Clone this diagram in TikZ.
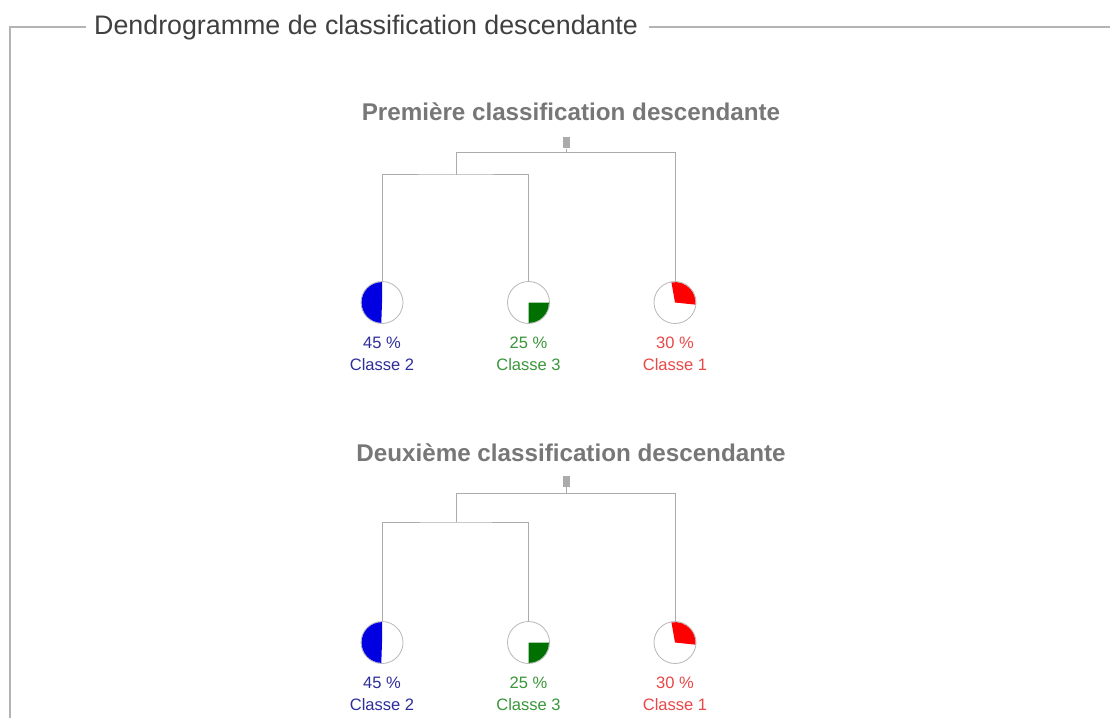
\documentclass[tikz,border=0pt]{standalone}
\usepackage{fontspec}
\setmainfont{Liberation Sans}
\definecolor{titlegray}{HTML}{404040}
\definecolor{subgray}{HTML}{777777}
\definecolor{framegray}{HTML}{B4B4B4}
\definecolor{linegray}{HTML}{ABABAB}
\definecolor{piegray}{HTML}{B8B8B8}
\definecolor{bluefill}{HTML}{0000E0}
\definecolor{bluetext}{HTML}{2E2E9C}
\definecolor{greenfill}{HTML}{007000}
\definecolor{greentext}{HTML}{3A963A}
\definecolor{redfill}{HTML}{FF0000}
\definecolor{redtext}{HTML}{E84848}
\begin{document}
\begin{tikzpicture}[x=1bp,y=-1bp,
  frameline/.style={draw=framegray,line width=1.3bp},
  branch/.style={draw=linegray,line width=1bp},
  pie/.style={circle,draw=piegray,line width=0.8bp,minimum size=42bp,inner sep=0pt},
  pct/.style={anchor=base,inner sep=0pt,font=\fontsize{16.6}{18}\selectfont},
  subtitle/.style={anchor=base,inner sep=0pt,text=subgray,font=\bfseries\fontsize{24.3}{28}\selectfont},
  rootbox/.style={fill=linegray,minimum width=7bp,minimum height=11bp,inner sep=0pt},
  bigtitle/.style={anchor=base west,inner sep=0pt,text=titlegray,font=\fontsize{26.9}{30}\selectfont}]
\useasboundingbox[fill=white] (0,0) rectangle (1110,718);
% frame
\node[bigtitle] (title) at (94,35) {Dendrogramme de classification descendante};
\coordinate (tl) at (86,27);
\coordinate (corner) at (10,27);
\coordinate (fend) at (10,718);
\coordinate (rend) at (1110,27);
\path (title.base east) ++(11,-8) coordinate (tr);
\draw[frameline] (tl) -- (corner) -- (fend);
\draw[frameline] (tr) -- (rend -| tr) -- (rend);
% trees
\foreach \k/\txt/\dy/\ry/\ay/\by in {1/Première/0/143/153/175, 2/Deuxième/340/481/493/522}{
  \node[subtitle] (st\k) at (571,121+\dy) {\txt{} classification descendante};
  \node[rootbox] (r\k) at (566,\ry) {};
  \coordinate (a\k) at (456,\ay);
  \coordinate (b\k) at (456,\by);
  \node[pie] (pb\k) at (382,302.5+\dy) {};
  \node[pie] (pg\k) at (528.5,302.5+\dy) {};
  \node[pie] (pr\k) at (675,302.5+\dy) {};
  \draw[branch] (r\k.south) -- (r\k.south |- a\k);
  \draw[branch] (b\k) -- (a\k) -| (pr\k.north);
  \draw[branch] (pb\k.north) |- (b\k) -| (pg\k.north);
  \begin{scope}[shift={(pb\k.center)},yscale=-1]
    \fill[bluefill] (0,0) -- (90:20.4) arc[start angle=90,end angle=268,radius=20.4] -- cycle;
  \end{scope}
  \begin{scope}[shift={(pg\k.center)},yscale=-1]
    \fill[greenfill] (0,0) -- (0:20.4) arc[start angle=0,end angle=-90,radius=20.4] -- cycle;
  \end{scope}
  \begin{scope}[shift={(pr\k.center)},yscale=-1]
    \fill[redfill] (0,0) -- (100:20.4) arc[start angle=100,end angle=-6,radius=20.4] -- cycle;
  \end{scope}
  \node[pct,text=bluetext] (vb\k) at (382,348+\dy) {45 \%};
  \node[pct,text=bluetext] (cb\k) at (382,370+\dy) {Classe 2};
  \node[pct,text=greentext] (vg\k) at (528.5,348+\dy) {25 \%};
  \node[pct,text=greentext] (cg\k) at (528.5,370+\dy) {Classe 3};
  \node[pct,text=redtext] (vr\k) at (675,348+\dy) {30 \%};
  \node[pct,text=redtext] (cr\k) at (675,370+\dy) {Classe 1};
}
\end{tikzpicture}
\end{document}
